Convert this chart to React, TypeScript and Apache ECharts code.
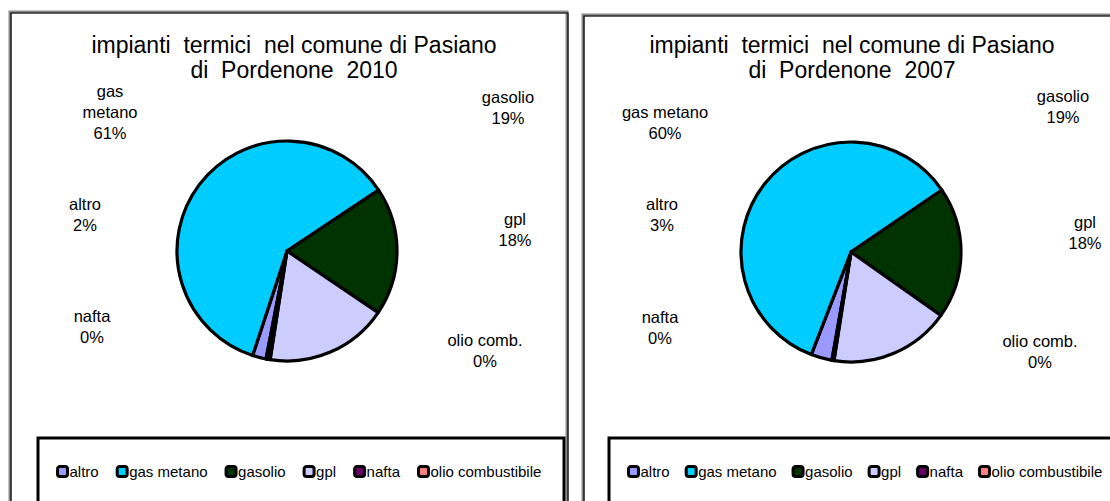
import React, { useEffect, useRef } from 'react';
import * as echarts from 'echarts';

const categories = ['altro', 'gas metano', 'gasolio', 'gpl', 'nafta', 'olio combustibile'];
const labelNames2010 = ['altro', 'gas\nmetano', 'gasolio', 'gpl', 'nafta', 'olio comb.'];
const labelNames2007 = ['altro', 'gas metano', 'gasolio', 'gpl', 'nafta', 'olio comb.'];
const values2010 = [2.0, 60.6, 18.8, 18.0, 0.4, 0.2];
const values2007 = [3.1, 59.6, 19.3, 17.7, 0.2, 0.1];
const colors = ['#9999FF', '#00CCFF', '#003300', '#CCCCFF', '#660066', '#FF8080'];
const title2010 = 'impianti  termici  nel comune di Pasiano\ndi  Pordenone  2010';
const title2007 = 'impianti  termici  nel comune di Pasiano\ndi  Pordenone  2007';

// label anchor positions (layout only)
const labelPos2010 = [[85, 214], [110, 112], [508, 107], [515, 229], [92, 326], [485, 350]];
const labelPos2007 = [[662, 214], [665, 122], [1063, 106], [1085, 232], [660, 327], [1040, 351]];

const FONT = '"Liberation Sans", Arial, sans-serif';

function makeData(values: number[]) {
  return categories.map((name, i) => ({
    name,
    value: values[i],
    itemStyle: { color: colors[i] },
  }));
}

function panel(x: number, y: number, w: number, h: number) {
  return [
    {
      type: 'rect',
      shape: { x, y, width: w, height: h },
      style: { fill: 'none', stroke: '#8a8a8a', lineWidth: 3 },
      silent: true,
    },
    {
      type: 'rect',
      shape: { x: x + 1, y: y + 1, width: w, height: h },
      style: { fill: 'none', stroke: '#000', lineWidth: 1.2 },
      silent: true,
    },
  ];
}

export default function App() {
  const ref = useRef<HTMLDivElement>(null);
  useEffect(() => {
    if (!ref.current) return;
    const chart = echarts.init(ref.current, undefined, { renderer: 'svg' });
    const labelNames = [labelNames2010, labelNames2007];
    const labelPos = [labelPos2010, labelPos2007];
    const mkSeries = (values: number[], idx: number, center: number[], startAngle: number) => ({
      type: 'pie',
      name: idx === 0 ? '2010' : '2007',
      center,
      radius: 110,
      startAngle,
      clockwise: true,
      avoidLabelOverlap: false,
      data: makeData(values),
      itemStyle: { borderColor: '#000', borderWidth: 3.2 },
      emphasis: { disabled: true },
      labelLine: { show: false },
      label: {
        show: true,
        color: '#000',
        fontFamily: FONT,
        fontSize: 16.5,
        lineHeight: 21,
        align: 'center',
        formatter: (p: any) => `${labelNames[idx][p.dataIndex]}\n${Math.round(p.percent)}%`,
      },
      labelLayout: (p: any) => ({
        x: labelPos[idx][p.dataIndex][0],
        y: labelPos[idx][p.dataIndex][1],
        align: 'center',
        verticalAlign: 'middle',
      }),
    });
    const legendCommon = {
      orient: 'horizontal',
      icon: 'roundRect',
      itemWidth: 10,
      itemHeight: 10,
      width: 560,
      padding: 0,
      selectedMode: false,
      itemStyle: { borderColor: '#000', borderWidth: 3 },
      textStyle: { fontFamily: FONT, fontSize: 15, color: '#000', padding: [0, 0, 0, -3] },
      data: categories,
    };
    chart.setOption({
      animation: false,
      backgroundColor: '#fff',
      legend: [
        { ...legendCommon, itemGap: 17, left: 56, top: 464 },
        { ...legendCommon, itemGap: 15, left: 627, top: 464 },
      ],
      series: [
        mkSeries(values2010, 0, [287, 251], 259),
        mkSeries(values2007, 1, [851, 252], 260),
      ],
      graphic: [
        ...panel(10, 12, 557, 530),
        ...panel(583, 15, 560, 530),
        {
          type: 'rect',
          shape: { x: 38, y: 438, width: 526, height: 100 },
          style: { fill: 'none', stroke: '#000', lineWidth: 3 },
          silent: true,
        },
        {
          type: 'rect',
          shape: { x: 609, y: 438, width: 526, height: 100 },
          style: { fill: 'none', stroke: '#000', lineWidth: 3 },
          silent: true,
        },
        {
          type: 'text',
          x: 294,
          y: 57,
          style: {
            text: title2010,
            fill: '#000',
            font: `23px ${FONT}`,
            lineHeight: 25,
            align: 'center',
            verticalAlign: 'middle',
          },
          silent: true,
        },
        {
          type: 'text',
          x: 852,
          y: 57,
          style: {
            text: title2007,
            fill: '#000',
            font: `23px ${FONT}`,
            lineHeight: 25,
            align: 'center',
            verticalAlign: 'middle',
          },
          silent: true,
        },
      ],
    });
    return () => chart.dispose();
  }, []);
  return (
    <div
      ref={ref}
      style={{ position: 'fixed', left: 0, top: 0, width: 1110, height: 501, background: '#fff' }}
    />
  );
}
